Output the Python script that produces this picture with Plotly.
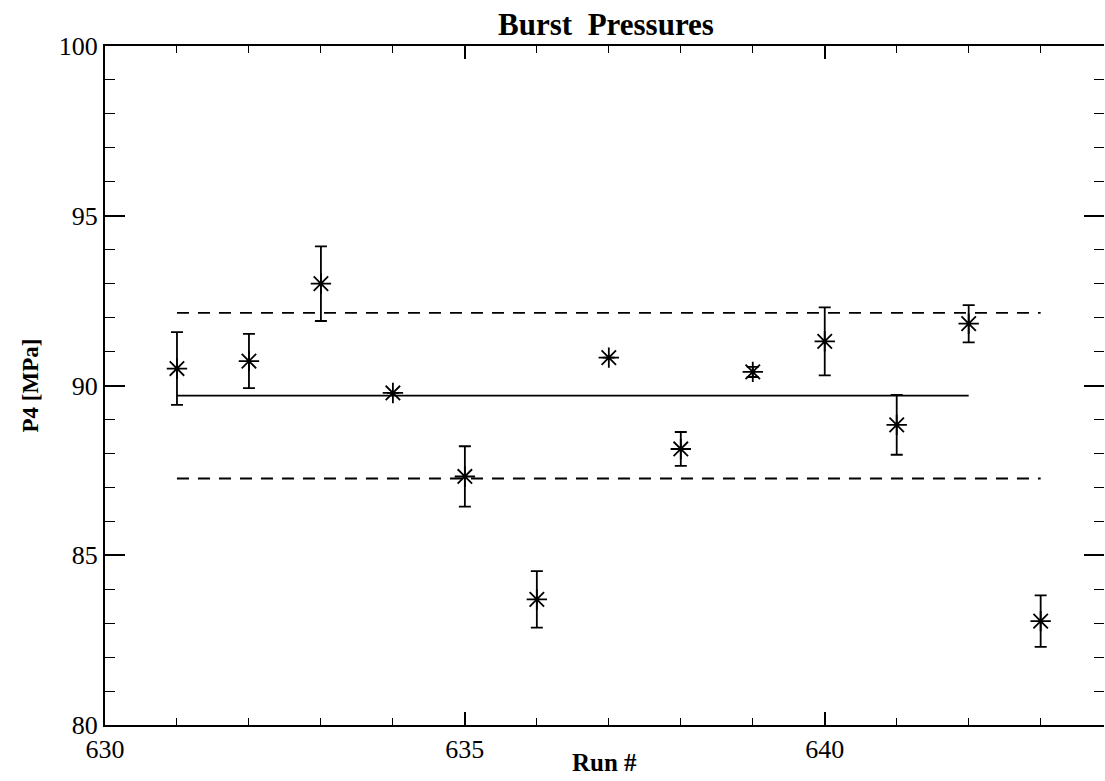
import plotly.graph_objects as go

# Data
runs = [631, 632, 633, 634, 635, 636, 637, 638, 639, 640, 641, 642, 643]
p4 = [90.50, 90.72, 93.00, 89.78, 87.32, 83.70, 90.82, 88.13, 90.40, 91.30, 88.84, 91.82, 83.06]
p4_err = [1.07, 0.80, 1.10, 0.0, 0.89, 0.83, 0.0, 0.50, 0.15, 1.00, 0.88, 0.55, 0.76]

mean_x = [631, 642]
mean_y = [89.70, 89.70]
band_x = [631, 643]
upper_y = [92.14, 92.14]
lower_y = [87.26, 87.26]

x_range = [630, 643.88]
y_range = [80, 100]
x_major = [630, 635, 640]
y_major = [80, 85, 90, 95, 100]

FONT = "Liberation Serif, Times New Roman, serif"

fig = go.Figure()

fig.add_trace(go.Scatter(
    x=mean_x, y=mean_y, mode="lines",
    line=dict(color="black", width=1.8), showlegend=False, hoverinfo="skip"))
for yy in (upper_y, lower_y):
    fig.add_trace(go.Scatter(
        x=band_x, y=yy, mode="lines",
        line=dict(color="black", width=1.8, dash="12px,9px"),
        showlegend=False, hoverinfo="skip"))

fig.add_trace(go.Scatter(
    x=runs, y=p4, mode="markers",
    marker=dict(symbol="asterisk-open", size=17, color="black",
                line=dict(color="black", width=1.8)),
    error_y=dict(type="data", array=p4_err, visible=True,
                 color="black", thickness=1.8, width=6),
    showlegend=False))

# invisible trace so the right-hand tick axis is drawn
fig.add_trace(go.Scatter(
    x=runs, y=p4, yaxis="y2", mode="markers",
    marker=dict(opacity=0, size=1), showlegend=False, hoverinfo="skip"))

fig.update_layout(
    width=1105, height=781,
    margin=dict(l=105, r=1, t=46, b=56),
    paper_bgcolor="white", plot_bgcolor="white",
    font=dict(family=FONT, color="black", size=26),
    title=dict(text="<b>Burst  Pressures</b>", x=606 / 1105, xanchor="center",
               y=1 - 24 / 781, yanchor="middle",
               font=dict(family=FONT, size=31, color="black")),
    xaxis=dict(
        range=x_range, tickvals=x_major, ticktext=[str(v) for v in x_major],
        ticks="inside", ticklen=13, tickwidth=1.5, tickcolor="black",
        minor=dict(dtick=1, tick0=630, ticks="inside", ticklen=7, tickwidth=1.2, tickcolor="black"),
        showline=True, linecolor="black", linewidth=2, mirror="ticks",
        showgrid=False, zeroline=False,
        tickfont=dict(family=FONT, size=26, color="black"),
    ),
    yaxis=dict(
        range=y_range, tickvals=y_major, ticktext=[str(v) for v in y_major],
        ticks="inside", ticklen=20, tickwidth=1.5, tickcolor="black",
        minor=dict(dtick=1, tick0=80, ticks="inside", ticklen=10, tickwidth=1.2, tickcolor="black"),
        showline=True, linecolor="black", linewidth=2, mirror=False,
        showgrid=False, zeroline=False,
        tickfont=dict(family=FONT, size=26, color="black"),
        title=dict(text="<b>P4 [MPa]</b>", font=dict(family=FONT, size=23, color="black"), standoff=14),
    ),
    yaxis2=dict(
        overlaying="y", side="right", anchor="x", range=y_range,
        tickvals=y_major, showticklabels=False, showline=False,
        showgrid=False, zeroline=False,
        ticks="inside", ticklen=20, tickwidth=1.5, tickcolor="black",
        minor=dict(dtick=1, tick0=80, ticks="inside", ticklen=10, tickwidth=1.2, tickcolor="black"),
    ),
    annotations=[dict(
        text="<b>Run #</b>", xref="paper", x=0.5, yref="paper", y=-(762 - 725) / (781 - 46 - 56),
        xanchor="center", yanchor="middle", showarrow=False,
        font=dict(family=FONT, size=25, color="black"))],
)

fig.write_html("out.html")
